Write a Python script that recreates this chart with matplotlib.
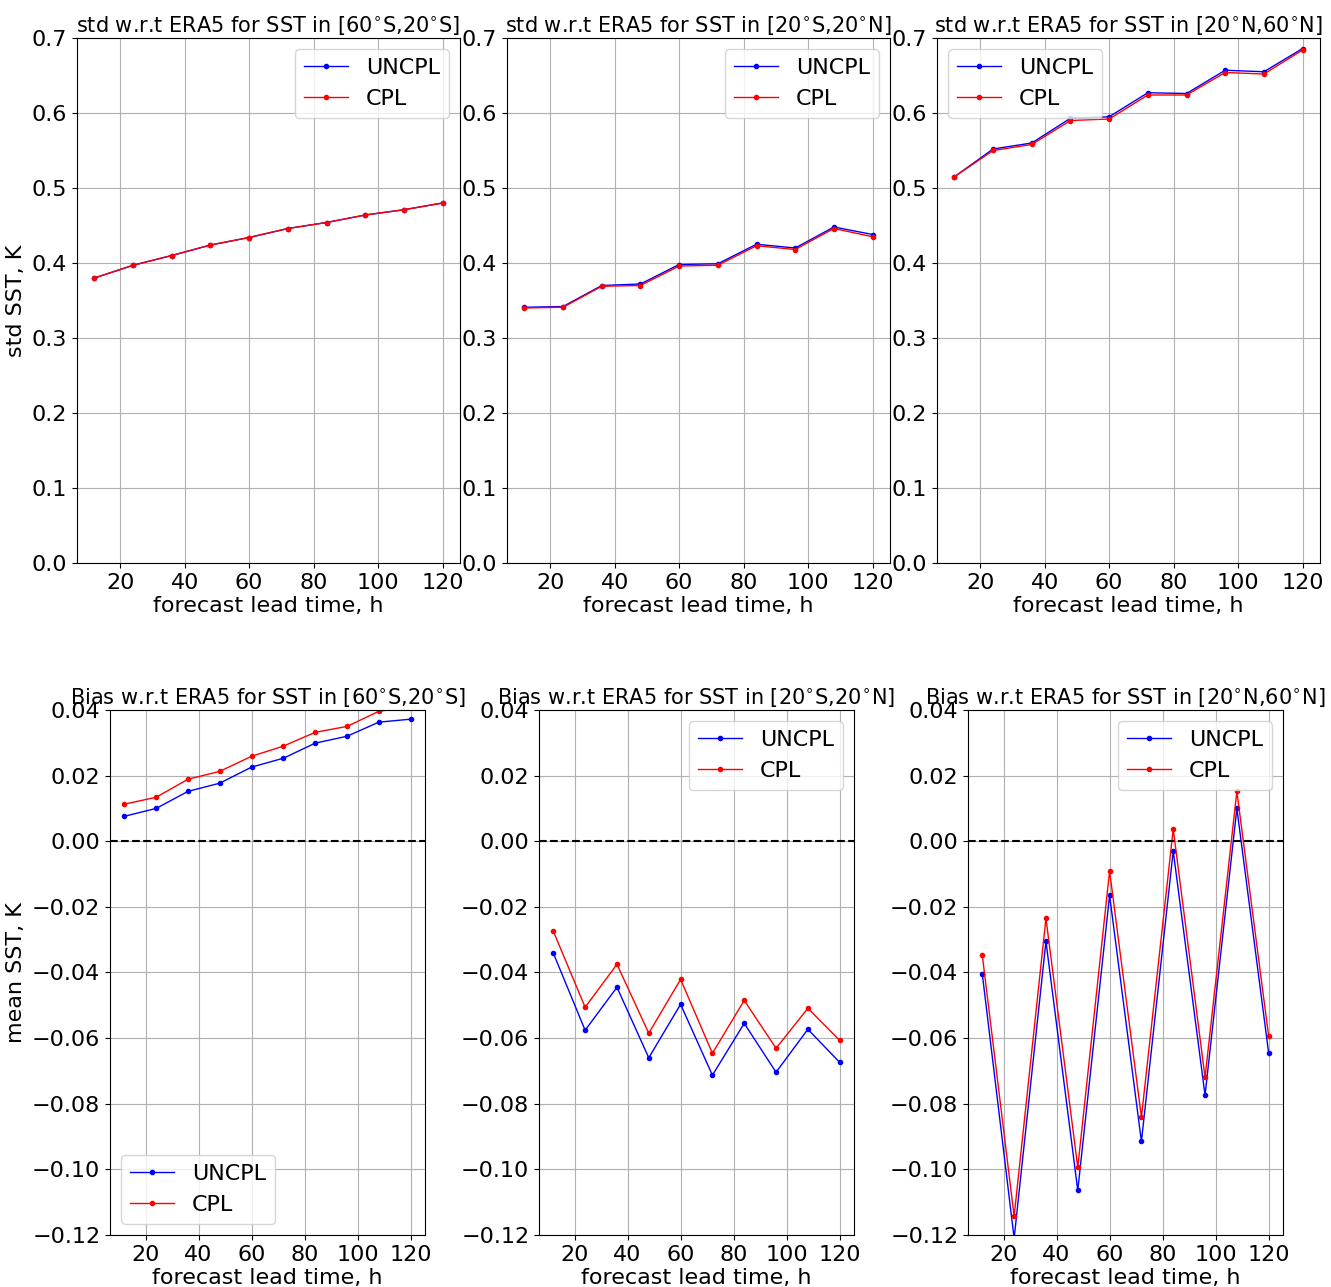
import matplotlib
matplotlib.use('Agg')
import matplotlib.pyplot as plt
import numpy as np

lead = [12, 24, 36, 48, 60, 72, 84, 96, 108, 120]
regions = ['[60$^{\\circ}$S,20$^{\\circ}$S]', '[20$^{\\circ}$S,20$^{\\circ}$N]', '[20$^{\\circ}$N,60$^{\\circ}$N]']

std_uncpl = [
    [0.380, 0.397, 0.410, 0.424, 0.434, 0.446, 0.454, 0.464, 0.471, 0.480],
    [0.341, 0.342, 0.370, 0.372, 0.398, 0.399, 0.425, 0.420, 0.448, 0.438],
    [0.515, 0.552, 0.560, 0.593, 0.595, 0.627, 0.626, 0.657, 0.655, 0.686],
]
std_cpl = [
    [0.380, 0.397, 0.410, 0.424, 0.434, 0.446, 0.454, 0.464, 0.471, 0.480],
    [0.340, 0.341, 0.369, 0.370, 0.396, 0.397, 0.423, 0.418, 0.446, 0.435],
    [0.515, 0.550, 0.558, 0.590, 0.592, 0.624, 0.624, 0.654, 0.652, 0.684],
]
bias_uncpl = [
    [0.0076, 0.0100, 0.0152, 0.0177, 0.0226, 0.0253, 0.0299, 0.0320, 0.0363, 0.0372],
    [-0.0341, -0.0576, -0.0445, -0.0660, -0.0497, -0.0713, -0.0555, -0.0704, -0.0573, -0.0674],
    [-0.0405, -0.1210, -0.0305, -0.1064, -0.0165, -0.0915, -0.0030, -0.0774, 0.0100, -0.0646],
]
bias_cpl = [
    [0.0113, 0.0134, 0.0189, 0.0213, 0.0259, 0.0290, 0.0332, 0.0350, 0.0396, 0.0410],
    [-0.0274, -0.0506, -0.0375, -0.0585, -0.0421, -0.0646, -0.0485, -0.0631, -0.0509, -0.0607],
    [-0.0348, -0.1143, -0.0235, -0.0994, -0.0091, -0.0841, 0.0037, -0.0720, 0.0152, -0.0595],
]

plt.rcParams['font.size'] = 16
fig = plt.figure(figsize=(13.31, 12.87), dpi=100)
W, H = 1331., 1287.
top_x = [77, 507, 937]
bot_x = [110, 539, 968]
for i in range(3):
    ax = fig.add_axes([top_x[i]/W, 1-563/H, 383/W, 525/H])
    ax.plot(lead, std_uncpl[i], 'b.-', lw=1, label='UNCPL')
    ax.plot(lead, std_cpl[i], 'r.-', lw=1, label='CPL')
    ax.set_ylim(0, 0.7)
    ax.set_xticks([20, 40, 60, 80, 100, 120])
    ax.grid(True)
    ax.set_title('std w.r.t ERA5 for SST in ' + regions[i], fontsize=15, pad=4)
    ax.set_xlabel('forecast lead time, h', labelpad=2)
    if i == 0:
        ax.set_ylabel('std SST, K')
    ax.legend(loc='upper left' if i == 2 else 'upper right')

    ax = fig.add_axes([bot_x[i]/W, 1-1235/H, 315/W, 525/H])
    ax.plot(lead, bias_uncpl[i], 'b.-', lw=1, label='UNCPL')
    ax.plot(lead, bias_cpl[i], 'r.-', lw=1, label='CPL')
    ax.axhline(0, color='k', ls='--')
    ax.set_ylim(-0.12, 0.04)
    ax.set_xticks([20, 40, 60, 80, 100, 120])
    ax.grid(True)
    ax.set_title('Bias w.r.t ERA5 for SST in ' + regions[i], fontsize=15, pad=4)
    ax.set_xlabel('forecast lead time, h', labelpad=2)
    if i == 0:
        ax.set_ylabel('mean SST, K')
        ax.legend(loc='lower left')
    else:
        ax.legend(loc='upper right')

fig.savefig('out.png')
